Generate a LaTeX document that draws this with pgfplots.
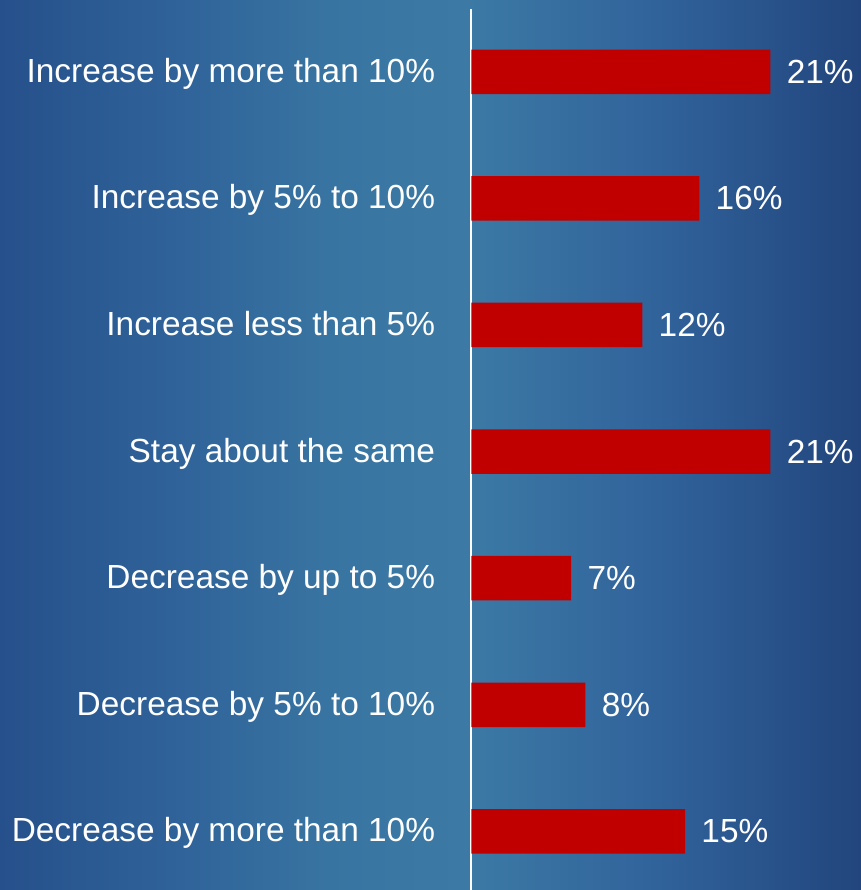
\documentclass[border=0pt]{standalone}
\usepackage{pgfplots}
\pgfplotsset{compat=1.18}
\usepackage{fontspec}
\setmainfont{Liberation Sans}

\definecolor{barred}{HTML}{C00000}
\definecolor{bgA}{HTML}{26508B}
\definecolor{bgB}{HTML}{30649A}
\definecolor{bgC}{HTML}{3874A1}
\definecolor{bgM}{HTML}{3C7AA5}
\definecolor{bgD}{HTML}{31639B}
\definecolor{bgE}{HTML}{22457D}

% slide background: darker blue at the sides, lighter around the axis line
\pgfdeclarehorizontalshading{slidebg}{100bp}{%
  color(0bp)=(bgA); color(25bp)=(bgA); color(36bp)=(bgB);
  color(44bp)=(bgC); color(52bp)=(bgM); color(63bp)=(bgD);
  color(75bp)=(bgE); color(100bp)=(bgE)}

\begin{document}
\begin{tikzpicture}
\path[use as bounding box] (0,0) rectangle (430.5pt,445pt);
\shade[shading=slidebg] (0,0) rectangle (430.5pt,445pt);
\begin{axis}[
  at={(235.75pt,0pt)}, anchor=south west,
  scale only axis, width=194.75pt, height=440.5pt,
  xmin=0, xmax=27.36,
  ymin=-0.496, ymax=6.463, y dir=reverse,
  enlargelimits=false, clip=false,
  hide x axis,
  axis y line*=left,
  y axis line style={white, line width=1pt, -},
  ytick={0,...,6},
  yticklabels={Increase by more than 10\%, Increase by 5\% to 10\%,
    Increase less than 5\%, Stay about the same, Decrease by up to 5\%,
    Decrease by 5\% to 10\%, Decrease by more than 10\%},
  ytick style={draw=none},
  yticklabel style={anchor=base east, inner sep=0pt, xshift=-13.75pt,
    yshift=-5.25pt, text=white, font=\fontsize{16.7}{20}\selectfont},
  /pgf/number format/assume math mode=true,
  xbar, bar width=22.25pt,
  nodes near coords={\pgfmathprintnumber{\pgfplotspointmeta}\%},
  nodes near coords style={anchor=west, inner sep=0pt, xshift=8pt,
    text=white, font=\fontsize{16.7}{20}\selectfont},
  point meta=explicit,
]
\addplot[fill=barred, draw=none] coordinates {
  (21,0) [21]
  (16,1) [16]
  (12,2) [12]
  (21,3) [21]
  (7,4)  [7]
  (8,5)  [8]
  (15,6) [15]
};
\end{axis}
\end{tikzpicture}
\end{document}
